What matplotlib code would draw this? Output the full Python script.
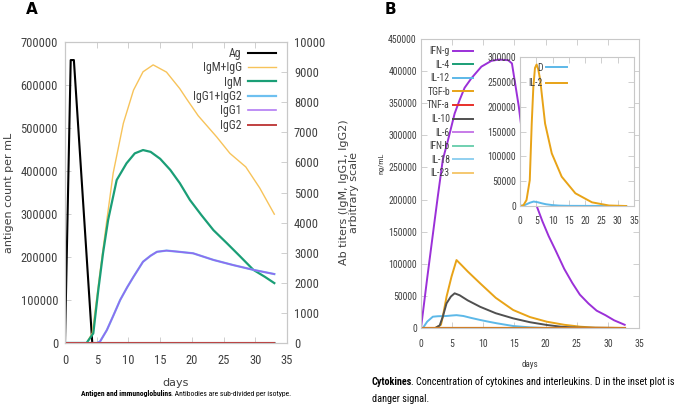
import matplotlib
matplotlib.use("Agg")
import matplotlib.pyplot as plt
import matplotlib.font_manager as fm

# === Fonts: a narrow face (with a bold) if one is installed
fonts = fm.fontManager.ttflist
prefs = ['Liberation Sans Narrow', 'Archivo Narrow', 'Roboto Condensed', 'Fira Sans Condensed',
         'Encode Sans Condensed', 'Barlow Semi Condensed']
NARROW = 'Liberation Sans'
for p in prefs:
    ws = [f.weight for f in fonts if f.name == p]
    if ws and any(w in ('bold', 700) or str(w) == '700' for w in ws):
        NARROW = p
        break
REG = 'DejaVu Sans'

# === Panel A data (left scale: antigen, right scale: antibody titers)
ag_days = [0, 0.9, 1.4, 4.3, 33]
ag_vals = [0, 658000, 658000, 0, 0]

igm_igg_days = [0, 3.4, 4.3, 5.5, 6.6, 7.6, 9.2, 10.8, 12.3, 13.9, 16.0, 18.1, 19.2, 21.0,
                23.9, 26.0, 28.5, 30.7, 33.0]
igm_igg_vals = [0, 0, 330, 2320, 4090, 5650, 7300, 8400, 9010, 9240, 9000, 8450, 8100, 7550,
                6850, 6300, 5850, 5150, 4280]

igm_days = [0, 3.4, 4.46, 5.25, 6.0, 6.8, 8.15, 9.7, 11.0, 12.3, 13.5, 15.0, 16.6, 18.1, 19.7,
            21.5, 23.4, 25.5, 27.5, 29.7, 31.5, 33.0]
igm_vals = [0, 0, 320, 1760, 2990, 4090, 5415, 5970, 6300, 6410, 6350, 6120, 5750, 5310, 4750,
            4250, 3750, 3320, 2900, 2430, 2200, 1990]

igg1_days = [0, 5.0, 5.5, 6.6, 7.6, 8.7, 9.8, 10.8, 12.3, 13.5, 14.5, 16.0, 17.5, 20.2, 23.4,
             26.5, 29.7, 33.0]
igg1_vals = [0, 0, 40, 430, 900, 1430, 1850, 2200, 2700, 2900, 3030, 3070, 3040, 2980, 2760,
             2590, 2430, 2290]
# IgG2 stays at zero, so IgG1+IgG2 sits on top of IgG1
igg12_vals = list(igg1_vals)
igg2_days = [0, 33]
igg2_vals = [0, 0]

# === Panel B data (cytokines, ng/mL)
ifng_days = [0, 1.0, 2.2, 2.7, 3.5, 4.35, 5.4, 6.2, 7.0, 8.1, 9.7, 11.3, 12.5, 14.0, 14.6, 15.7,
             16.7, 17.3, 18.3, 19.5, 20.5, 21.6, 23.0, 24.3, 25.5, 26.9, 28.2, 29.6, 31.0, 32.7]
ifng_vals = [0, 78000, 168000, 205000, 262000, 293000, 334000, 355000, 374000, 389000, 407000,
             416000, 418000, 417000, 412000, 345000, 267000, 232000, 197000, 166000, 143000,
             121000, 92000, 70000, 52000, 38000, 27000, 20000, 12000, 5000]

tgfb_days = [0, 2.3, 3.2, 3.5, 4.1, 4.9, 5.7, 6.5, 7.5, 9.5, 12.0, 14.8, 17.5, 20.2, 23.0, 25.6,
             28.0, 32.7]
tgfb_vals = [0, 0, 5000, 17600, 48700, 80000, 105800, 98000, 88000, 69500, 47000, 28000, 17000,
             9800, 5000, 2000, 500, 0]

il10_days = [0, 2.3, 3.0, 3.5, 4.1, 4.8, 5.4, 6.2, 7.5, 9.5, 12.0, 14.8, 17.5, 20.2, 22.5, 25.0,
             32.7]
il10_vals = [0, 0, 4000, 17600, 38400, 49000, 54000, 51000, 43000, 33000, 23000, 15000, 9000,
             4700, 2000, 500, 0]

il12_days = [0, 0.3, 1.0, 1.9, 2.7, 4.1, 5.0, 5.7, 6.8, 8.0, 9.5, 11.0, 12.2, 14.8, 17.5, 20.0,
             32.7]
il12_vals = [0, 0, 10000, 17600, 18300, 18700, 19500, 20000, 18700, 15800, 12500, 9500, 7300,
             3100, 1000, 0, 0]

flat_days = [0, 32.7]
flat_vals = [0, 0]

# inset: danger signal and IL-2
il2_days = [0, 1.0, 2.0, 3.0, 3.6, 4.1, 4.6, 5.1, 5.6, 6.2, 7.7, 9.75, 12.8, 17.0, 22.1, 27.3, 32.6]
il2_vals = [0, 1000, 12000, 52000, 166000, 240000, 278000, 285000, 275000, 254000, 166000,
            106000, 59000, 25600, 7400, 1000, 0]
d_days = [0, 1.5, 3.0, 4.2, 5.5, 6.7, 8.0, 9.7, 12.0, 15.0, 32.6]
d_vals = [0, 2000, 6500, 9000, 7500, 5400, 3500, 2000, 800, 300, 0]

# === Styling helpers
W, H = 685, 408
FRAME = '#c8c8c8'
TXT = '#404040'


def style_axes(ax, fs, xpad, ypad, family):
    for s in ax.spines.values():
        s.set_color(FRAME)
        s.set_linewidth(0.8)
    ax.tick_params(direction='in', length=4, width=0.6, color=FRAME, labelcolor=TXT,
                   labelsize=fs, top=True)
    ax.tick_params(axis='x', pad=xpad)
    ax.tick_params(axis='y', pad=ypad)
    for lab in ax.get_xticklabels() + ax.get_yticklabels():
        lab.set_family(family)


fig = plt.figure(figsize=(W / 100, H / 100), dpi=100)

# === Panel A
axA = fig.add_axes([65 / W, 1 - 343 / H, (287 - 65) / W, (343 - 42) / H])
axA2 = axA.twinx()

h_ag, = axA.plot(ag_days, ag_vals, color='black', lw=1.5, label='Ag')
h_tot, = axA2.plot(igm_igg_days, igm_igg_vals, color='#f7c35a', lw=1.0, label='IgM+IgG')
h_igm, = axA2.plot(igm_days, igm_vals, color='#1a9e76', lw=1.6, label='IgM')
h_g12, = axA2.plot(igg1_days, igg12_vals, color='#6ec0f0', lw=1.6, label='IgG1+IgG2')
h_g1, = axA2.plot(igg1_days, igg1_vals, color='#9a50f0', lw=1.2, alpha=0.75, label='IgG1')
h_g2, = axA2.plot(igg2_days, igg2_vals, color='#c04040', lw=1.4, label='IgG2')

axA.set_xlim(0, 35)
axA.set_ylim(0, 700000)
axA2.set_ylim(0, 10000)
axA.set_xticks(range(0, 36, 5))
axA.set_yticks(range(0, 700001, 100000))
axA2.set_yticks(range(0, 10001, 1000))
style_axes(axA, 9, 8, 5, NARROW)
style_axes(axA2, 9, 8, 5, NARROW)
axA.tick_params(axis='y', right=False)
axA2.tick_params(axis='y', left=False, right=True)

axA.set_ylabel('antigen count per mL', family=REG, fontsize=8, color=TXT, labelpad=5)
axA.set_xlabel('days', family=REG, fontsize=8, color=TXT, labelpad=8)
axA2.set_ylabel('Ab titers (IgM, IgG1, IgG2)\narbitrary scale', family=REG, fontsize=8,
                color=TXT, labelpad=10, linespacing=1.0)

legA = axA2.legend([h_ag, h_tot, h_igm, h_g12, h_g1, h_g2],
                   ['Ag', 'IgM+IgG', 'IgM', 'IgG1+IgG2', 'IgG1', 'IgG2'],
                   loc='upper right', bbox_to_anchor=(0.982, 1.008), frameon=False,
                   markerfirst=False, handlelength=2.4, handletextpad=0.5,
                   labelspacing=0.12, borderaxespad=0.2,
                   prop={'family': NARROW, 'size': 8.5})
for t in legA.get_texts():
    t.set_color(TXT)

# === Panel B
axB = fig.add_axes([421 / W, 1 - 328 / H, (639 - 421) / W, (328 - 39) / H])
b_series = [
    ('IFN-g', ifng_days, ifng_vals, '#9b30d8'),
    ('IL-4', flat_days, flat_vals, '#1a9e76'),
    ('IL-12', il12_days, il12_vals, '#5cb8e8'),
    ('TGF-b', tgfb_days, tgfb_vals, '#e8a317'),
    ('TNF-a', flat_days, flat_vals, '#e8302a'),
    ('IL-10', il10_days, il10_vals, '#505050'),
    ('IL-6', flat_days, flat_vals, '#c77be8'),
    ('IFN-b', flat_days, flat_vals, '#70d0b0'),
    ('IL-18', flat_days, flat_vals, '#90d0f0'),
    ('IL-23', flat_days, flat_vals, '#f5c870'),
]
for name, dd, vv, col in b_series:
    axB.plot(dd, vv, color=col, lw=1.4, label=name)
# brownish zero line seen at the bottom
axB.plot(flat_days, flat_vals, color='#d07a20', lw=1.6)

axB.set_xlim(0, 35)
axB.set_ylim(0, 450000)
axB.set_xticks(range(0, 36, 5))
axB.set_yticks(range(0, 450001, 50000))
style_axes(axB, 7, 8, 3, NARROW)
axB.tick_params(axis='y', right=True)
axB.set_xlabel('days', family=NARROW, fontsize=6.5, color=TXT, labelpad=8)

legB = axB.legend(loc='upper right', bbox_to_anchor=(0.266, 0.996), frameon=False,
                  markerfirst=False, handlelength=2.1, handletextpad=0.3,
                  labelspacing=0.37, borderaxespad=0.2,
                  prop={'family': NARROW, 'size': 7})
for t in legB.get_texts():
    t.set_color(TXT)

fig.text(381.7 / W, 1 - 163 / H, 'ng/mL', rotation=90, ha='center', va='center',
         family=NARROW, fontsize=6, color=TXT)

# === Inset
axI = fig.add_axes([520 / W, 1 - 206 / H, (634 - 520) / W, (206 - 57) / H])
h_d, = axI.plot(d_days, d_vals, color='#5cb8e8', lw=1.4, label='D')
h_il2, = axI.plot(il2_days, il2_vals, color='#e8a317', lw=1.4, label='IL-2')
axI.set_xlim(0, 35)
axI.set_ylim(0, 300000)
axI.set_xticks(range(0, 36, 5))
axI.set_yticks(range(0, 300001, 50000))
style_axes(axI, 7, 7, 3, NARROW)
axI.tick_params(axis='y', right=True)
legI = axI.legend(loc='upper right', bbox_to_anchor=(0.465, 1.0), frameon=False,
                  markerfirst=False, handlelength=2.2, handletextpad=0.3,
                  labelspacing=0.55, borderaxespad=0.2,
                  prop={'family': NARROW, 'size': 7})
for t in legI.get_texts():
    t.set_color(TXT)

# === Panel letters and captions
fig.text(32 / W, 1 - 10 / H, 'A', weight='bold', fontsize=11, ha='center', va='center', family=REG)
fig.text(390 / W, 1 - 9 / H, 'B', weight='bold', fontsize=11, ha='center', va='center', family=REG)

capA = fig.text(81 / W, 1 - 397 / H, 'Antigen and immunoglobulins', weight='bold',
                fontsize=5.5, family=NARROW, va='bottom')
axA.annotate('. Antibodies are sub-divided per isotype.', xy=(1, 0), xycoords=capA,
             xytext=(-0.8, 0), textcoords='offset points',
             va='bottom', ha='left', fontsize=5.5, family=NARROW, annotation_clip=False)

capB = fig.text(372 / W, 1 - 387 / H, 'Cytokines', weight='bold', fontsize=7.3,
                family=NARROW, va='bottom')
axB.annotate('. Concentration of cytokines and interleukins. D in the inset plot is',
             xy=(1, 0), xycoords=capB, xytext=(-1.2, 0), textcoords='offset points',
             va='bottom', ha='left', fontsize=7.3, family=NARROW, annotation_clip=False)
fig.text(372 / W, 1 - 404 / H, 'danger signal.', fontsize=7.3, family=NARROW, va='bottom')

fig.savefig('out.png', dpi=100)
